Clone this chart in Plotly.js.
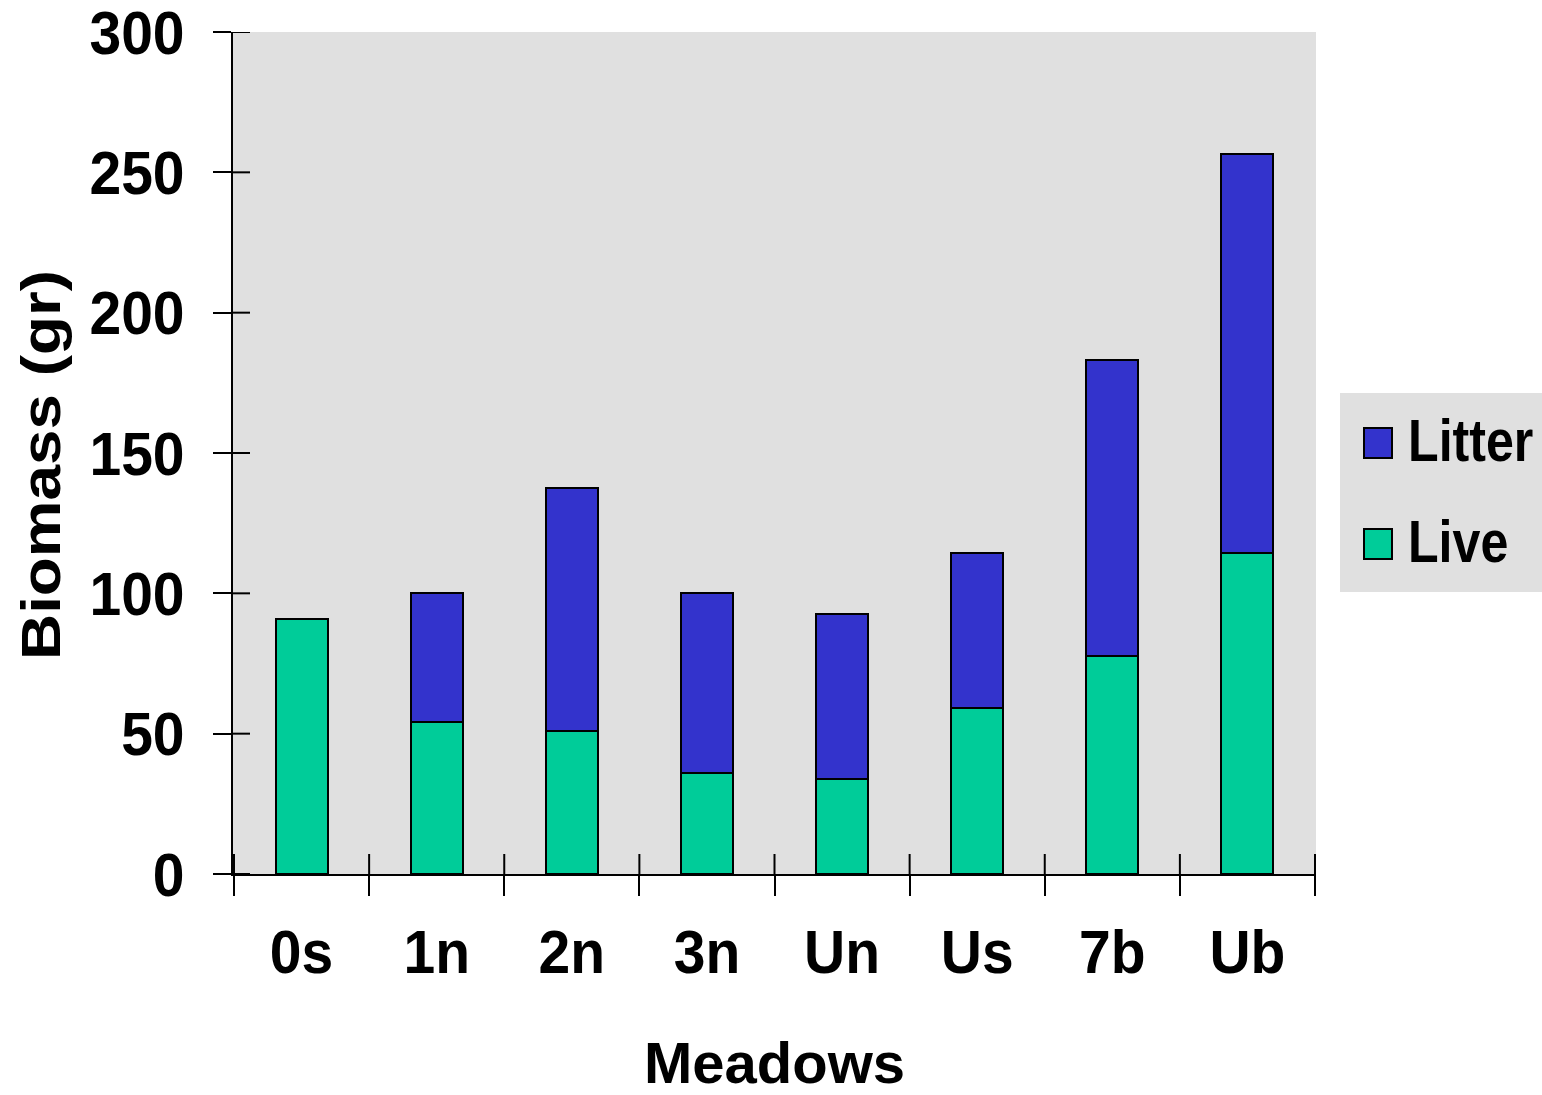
<!DOCTYPE html>
<html>
<head>
<meta charset="utf-8">
<script src="https://cdn.plot.ly/plotly-3.0.1.min.js"></script>
<style>html,body{margin:0;padding:0;background:#fff;}#chart{width:1542px;height:1095px;}</style>
</head>
<body>
<div id="chart"></div>
<script>
// ---- data ----
const categories = ['0s', '1n', '2n', '3n', 'Un', 'Us', '7b', 'Ub'];
const liveValues = [91, 54.3, 51, 36, 33.7, 59, 77.5, 114.3];
const litterValues = [0, 45.7, 86.5, 64, 59, 55.3, 105.5, 142.4];
const seriesNames = ['Live', 'Litter'];
const yTickValues = [0, 50, 100, 150, 200, 250, 300];
const xTitle = 'Meadows';
const yTitle = 'Biomass (gr)';

// ---- styles ----
const liveColor = '#00cc99';
const litterColor = '#3333cc';
const bg = '#e0e0e0';
const font = 'Liberation Sans, Arial, sans-serif';
const W = 1542, H = 1095;
const M = {l: 233, r: 226, t: 32, b: 221};
const plotW = W - M.l - M.r, plotH = H - M.t - M.b;
const xp = px => (px - M.l) / plotW;
const yp = py => (H - M.b - py) / plotH;

const boundaries = [];
for (let i = 0; i <= categories.length; i++) boundaries.push(i - 0.5);

const traces = [
  {
    type: 'bar', name: seriesNames[0], x: categories, y: liveValues,
    marker: {color: liveColor, line: {color: '#000', width: 2}}
  },
  {
    type: 'bar', name: seriesNames[1], x: categories, y: litterValues,
    marker: {color: litterColor, line: {color: '#000', width: 2}}
  }
];

const shapes = [];
// inner halves of the crossing tick marks
yTickValues.forEach(v => shapes.push({
  type: 'line', xref: 'paper', yref: 'y', x0: 0, x1: 17 / plotW, y0: v, y1: v,
  line: {color: '#000', width: 2}
}));
boundaries.forEach(b => shapes.push({
  type: 'line', xref: 'x', yref: 'paper', x0: b, x1: b, y0: 0, y1: 20 / plotH,
  line: {color: '#000', width: 2}
}));
// legend box and swatches
shapes.push({type: 'rect', xref: 'paper', yref: 'paper', x0: xp(1340), x1: xp(1545), y0: yp(592), y1: yp(393),
  fillcolor: bg, line: {width: 0}, layer: 'below'});
shapes.push({type: 'rect', xref: 'paper', yref: 'paper', x0: xp(1364), x1: xp(1392), y0: yp(458), y1: yp(428),
  fillcolor: litterColor, line: {color: '#000', width: 2}});
shapes.push({type: 'rect', xref: 'paper', yref: 'paper', x0: xp(1364), x1: xp(1392), y0: yp(559), y1: yp(529),
  fillcolor: liveColor, line: {color: '#000', width: 2}});

const annotations = [
  {text: seriesNames[1], xref: 'paper', yref: 'paper', x: xp(1406), y: yp(441), xanchor: 'left', yanchor: 'middle',
   showarrow: false, font: {family: font, size: 59, color: '#000', weight: 700}},
  {text: seriesNames[0], xref: 'paper', yref: 'paper', x: xp(1406), y: yp(542), xanchor: 'left', yanchor: 'middle',
   showarrow: false, font: {family: font, size: 59, color: '#000', weight: 700}}
];

const layout = {
  width: W, height: H,
  margin: M,
  paper_bgcolor: '#ffffff',
  plot_bgcolor: bg,
  barmode: 'stack',
  bargap: 0.615,
  showlegend: false,
  shapes: shapes,
  annotations: annotations,
  xaxis: {
    type: 'category', categoryarray: categories, categoryorder: 'array',
    tickson: 'boundaries', ticks: 'outside', ticklen: 20, tickwidth: 2, tickcolor: '#000',
    showline: true, linewidth: 2, linecolor: '#000', showgrid: false, zeroline: false,
    ticklabelstandoff: 23, ticklabeloverflow: 'allow',
    tickfont: {family: font, size: 62, color: '#000', weight: 700},
    title: {text: xTitle, font: {family: font, size: 58, color: '#000', weight: 700}, standoff: 58}
  },
  yaxis: {
    range: [0, 300], tickmode: 'array', tickvals: yTickValues,
    ticks: 'outside', ticklen: 18, tickwidth: 2, tickcolor: '#000',
    showline: true, linewidth: 2, linecolor: '#000', showgrid: false, zeroline: false,
    ticklabelstandoff: 16, ticklabeloverflow: 'allow',
    tickfont: {family: font, size: 62, color: '#000', weight: 700},
    title: {text: yTitle, font: {family: font, size: 55, color: '#000', weight: 700}, standoff: 20}
  }
};

function hscale(el, s, anchor) {
  const bb = el.getBBox();
  const ax = anchor === 'end' ? bb.x + bb.width : anchor === 'middle' ? bb.x + bb.width / 2 : bb.x;
  const t = el.getAttribute('transform') || '';
  el.setAttribute('transform', t + ' translate(' + ax + ',0) scale(' + s + ',1) translate(' + (-ax) + ',0)');
}

Plotly.newPlot('chart', traces, layout, {staticPlot: true}).then(function (gd) {
  gd.querySelectorAll('.ytick text').forEach(el => hscale(el, 0.92, 'end'));
  gd.querySelectorAll('.xtick text').forEach(el => hscale(el, 0.92, 'middle'));
  gd.querySelectorAll('.annotation-text').forEach(el => hscale(el, 0.85, 'start'));
  const yt = gd.querySelector('.ytitle');
  if (yt) {
    hscale(yt, 1.16, 'middle');
    const g = yt.parentNode;
    const r = g.getBoundingClientRect();
    const dx = 10 - r.left, dy = 465 - (r.top + r.bottom) / 2;
    const t = g.getAttribute('transform') || '';
    g.setAttribute('transform', 'translate(' + dx + ',' + dy + ') ' + t);
  }
});
</script>
</body>
</html>
